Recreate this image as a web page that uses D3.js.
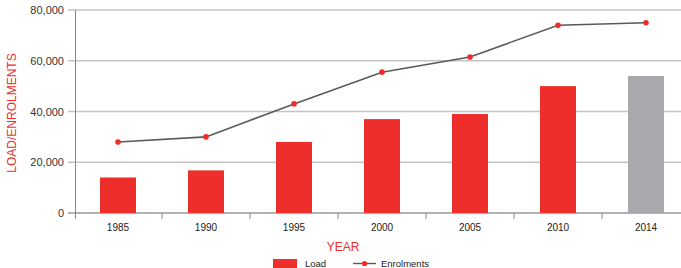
<!DOCTYPE html>
<html>
<head>
<meta charset="utf-8">
<script src="https://cdn.jsdelivr.net/npm/d3@7"></script>
<style>
  body { margin: 0; background: #fff; }
  svg { font-family: "Liberation Sans", Arial, sans-serif; }
</style>
</head>
<body>
<div id="chart"></div>
<script>
// data
var years = ["1985", "1990", "1995", "2000", "2005", "2010", "2014"];
var load = [14000, 16800, 28000, 37000, 39000, 50000, 54000];
var enrolments = [28000, 30000, 43000, 55500, 61500, 74000, 75000];
var yTicks = [0, 20000, 40000, 60000, 80000];

var width = 681, height = 268;
var red = "#ee2e2a", grey = "#a7a9ac";

var svg = d3.select("#chart").append("svg")
    .attr("width", width)
    .attr("height", height);

var x = d3.scaleBand()
    .domain(years)
    .range([73.6, 690.4])
    .paddingInner(0.591)
    .paddingOuter(0.3);

var y = d3.scaleLinear()
    .domain([0, 80000])
    .range([213, 10]);

// gridlines
svg.append("g").selectAll("line")
    .data(yTicks)
    .enter().append("line")
    .attr("x1", 68).attr("x2", width)
    .attr("y1", function (d) { return y(d); })
    .attr("y2", function (d) { return y(d); })
    .style("stroke", function (d) { return d === 0 ? "#999" : "#c4c4c4"; })
    .style("stroke-width", 1.3);

// y axis line
svg.append("line")
    .attr("x1", 75.5).attr("x2", 75.5)
    .attr("y1", y(80000)).attr("y2", 219)
    .style("stroke", "#888").style("stroke-width", 1);

// y tick labels
svg.append("g").selectAll("text")
    .data(yTicks)
    .enter().append("text")
    .attr("x", 64)
    .attr("y", function (d) { return y(d) + 4; })
    .attr("text-anchor", "end")
    .attr("font-size", "11px")
    .attr("fill", "#333")
    .text(function (d) { return d3.format(",")(d); });

// x ticks between bands
var step = x.step();
svg.append("g").selectAll("line")
    .data(years.slice(1))
    .enter().append("line")
    .attr("x1", function (d) { return x(d) - (step - x.bandwidth()) / 2; })
    .attr("x2", function (d) { return x(d) - (step - x.bandwidth()) / 2; })
    .attr("y1", 213).attr("y2", 219)
    .style("stroke", "#888");

// x labels
svg.append("g").selectAll("text")
    .data(years)
    .enter().append("text")
    .attr("x", function (d) { return x(d) + x.bandwidth() / 2; })
    .attr("y", 231)
    .attr("text-anchor", "middle")
    .attr("font-size", "10px")
    .attr("fill", "#222")
    .text(function (d) { return d; });

// bars
svg.append("g").selectAll("rect")
    .data(load)
    .enter().append("rect")
    .attr("x", function (d, i) { return x(years[i]); })
    .attr("y", function (d) { return y(d); })
    .attr("width", x.bandwidth())
    .attr("height", function (d) { return y(0) - y(d); })
    .style("fill", function (d, i) { return years[i] === "2014" ? grey : red; });

// enrolments line
var line = d3.line()
    .x(function (d, i) { return x(years[i]) + x.bandwidth() / 2; })
    .y(function (d) { return y(d); });

svg.append("path")
    .datum(enrolments)
    .attr("d", line)
    .style("fill", "none")
    .style("stroke", "#5a5a5a")
    .style("stroke-width", 1.6);

svg.append("g").selectAll("circle")
    .data(enrolments)
    .enter().append("circle")
    .attr("cx", function (d, i) { return x(years[i]) + x.bandwidth() / 2; })
    .attr("cy", function (d) { return y(d); })
    .attr("r", 2.8)
    .style("fill", red);

// axis titles
svg.append("text")
    .attr("transform", "translate(16,113) rotate(-90)")
    .attr("text-anchor", "middle")
    .attr("font-size", "12px")
    .attr("fill", red)
    .text("LOAD/ENROLMENTS");

svg.append("text")
    .attr("x", 343)
    .attr("y", 251)
    .attr("text-anchor", "middle")
    .attr("font-size", "12px")
    .attr("fill", red)
    .text("YEAR");

// legend
var legend = svg.append("g");
legend.append("rect")
    .attr("x", 273).attr("y", 259)
    .attr("width", 24).attr("height", 9)
    .style("fill", red);
legend.append("text")
    .attr("x", 305).attr("y", 267)
    .attr("font-size", "9.5px")
    .attr("fill", "#222")
    .text("Load");
legend.append("line")
    .attr("x1", 353).attr("x2", 376)
    .attr("y1", 263.5).attr("y2", 263.5)
    .style("stroke", "#5a5a5a").style("stroke-width", 1.4);
legend.append("circle")
    .attr("cx", 364.5).attr("cy", 263.5).attr("r", 2.6)
    .style("fill", red);
legend.append("text")
    .attr("x", 381).attr("y", 267)
    .attr("font-size", "9.5px")
    .attr("fill", "#222")
    .text("Enrolments");
</script>
</body>
</html>
